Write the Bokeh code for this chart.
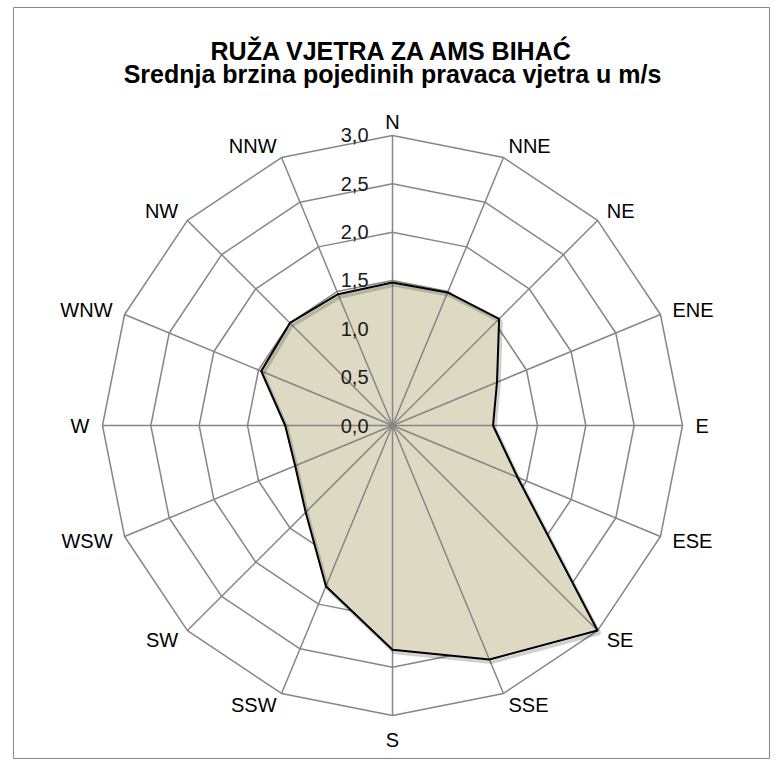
import numpy as np
from bokeh.plotting import figure
from bokeh.models import Range1d
from bokeh.core.properties import value
from bokeh.embed import file_html
from bokeh.resources import INLINE

# ---- data ----
DIRECTIONS = ["N", "NNE", "NE", "ENE", "E", "ESE", "SE", "SSE",
              "S", "SSW", "SW", "WSW", "W", "WNW", "NW", "NNW"]
SPEED = [1.48, 1.49, 1.56, 1.17, 1.04, 1.40, 3.00, 2.62,
         2.32, 1.80, 1.27, 1.09, 1.11, 1.47, 1.50, 1.47]
TICKS = [0.0, 0.5, 1.0, 1.5, 2.0, 2.5, 3.0]
TICK_LABELS = ["0,0", "0,5", "1,0", "1,5", "2,0", "2,5", "3,0"]
TITLE_1 = "RUŽA VJETRA ZA AMS BIHAĆ"
TITLE_2 = "Srednja brzina pojedinih pravaca vjetra u m/s"

# ---- styling / geometry ----
PX = 96.67            # pixels per m/s
FRAME_W, FRAME_H = 756, 751
CX, CY = 379, 418     # centre of the rose inside the frame (px)
GRID = "#868686"
FILL = "#DDD9C3"
FONT = value("Liberation Sans")
RMAX = max(TICKS)

n = len(DIRECTIONS)
ang = np.deg2rad(np.arange(n) * 360.0 / n)
ux, uy = np.sin(ang), np.cos(ang)

p = figure(frame_width=FRAME_W, frame_height=FRAME_H,
           x_range=Range1d(-CX / PX, (FRAME_W - CX) / PX),
           y_range=Range1d(-(FRAME_H - CY) / PX, CY / PX),
           x_axis_type=None, y_axis_type=None,
           output_backend="svg", toolbar_location=None,
           min_border_left=13, min_border_right=9,
           min_border_top=7, min_border_bottom=2,
           background_fill_color="white", border_fill_color="white")
p.outline_line_color = GRID
p.outline_line_width = 1

# rings
ring_xs = [list(np.append(ux, ux[0]) * t) for t in TICKS if t > 0]
ring_ys = [list(np.append(uy, uy[0]) * t) for t in TICKS if t > 0]
p.multi_line(ring_xs, ring_ys, line_color=GRID, line_width=1.5)

# data polygon
sp = np.array(SPEED)
px_, py_ = sp * ux, sp * uy
p.patch(list(px_), list(py_), fill_color=FILL, line_color=None)

# spokes
p.segment(x0=np.zeros(n), y0=np.zeros(n), x1=ux * RMAX, y1=uy * RMAX,
          line_color=GRID, line_width=1.5)

# shadow + outline
cx_ = list(np.append(px_, px_[0]))
cy_ = list(np.append(py_, py_[0]))
p.line([v + 0.02 for v in cx_], [v - 0.028 for v in cy_],
       line_color="black", line_alpha=0.18, line_width=3.5)
p.line(cx_, cy_, line_color="black", line_width=2)

# tick labels
p.text(x=[-24 / PX] * len(TICKS), y=TICKS, text=TICK_LABELS,
       text_align="right", text_baseline="middle",
       text_font=FONT, text_font_size="20px", text_color="#1a1a1a")

# direction labels
gap = 13 / PX
lx = ux * RMAX + ux * gap
ly = uy * RMAX + uy * gap
aligns, bases = [], []
for i in range(n):
    if i == 0:
        aligns.append("center"); bases.append("alphabetic")
    elif i == n // 2:
        aligns.append("center"); bases.append("top")
    elif i < n // 2:
        aligns.append("left"); bases.append("middle")
    else:
        aligns.append("right"); bases.append("middle")
for a in ("left", "right", "center"):
    for b in ("alphabetic", "top", "middle"):
        idx = [i for i in range(n) if aligns[i] == a and bases[i] == b]
        if idx:
            p.text(x=lx[idx], y=ly[idx], text=[DIRECTIONS[i] for i in idx],
                   text_align=a, text_baseline=b,
                   text_font=FONT, text_font_size="20px", text_color="black")

# title
p.text(x=[0.0], y=[(CY - 43) / PX], text=[TITLE_1], text_align="center",
       text_baseline="alphabetic", text_font=FONT, text_font_size="25px",
       text_font_style="bold", text_color="black")
p.text(x=[0.0], y=[(CY - 66) / PX], text=[TITLE_2], text_align="center",
       text_baseline="alphabetic", text_font=FONT, text_font_size="25px",
       text_font_style="bold", text_color="black")

open("out.html", "w").write(file_html(p, INLINE))
